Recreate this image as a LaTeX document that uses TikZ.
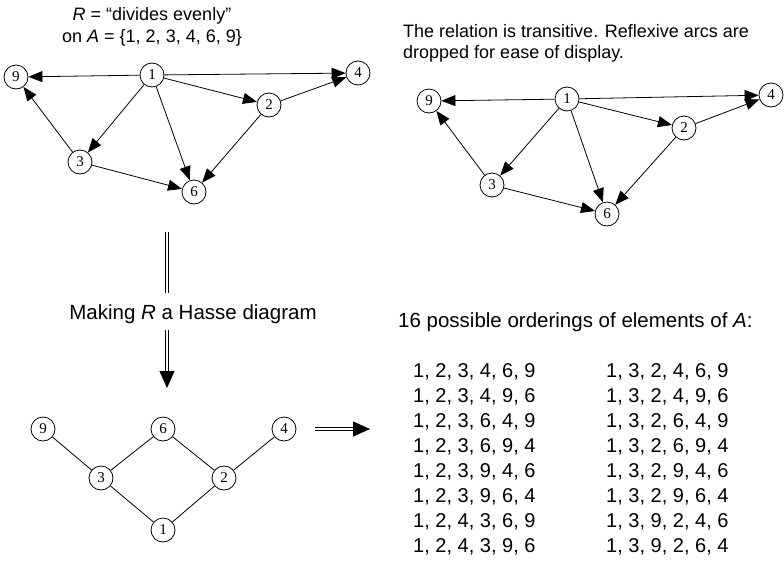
\documentclass[tikz,border=0pt]{standalone}
\usepackage{fontspec}
\setmainfont{Liberation Sans}
\newfontfamily\numfont{Liberation Serif}
\usetikzlibrary{arrows.meta}
\begin{document}
\begin{tikzpicture}[x=1pt,y=-1pt,
  vtx/.style={circle,draw,line width=0.8pt,minimum size=24pt,inner sep=0pt,font=\numfont\fontsize{15}{15}\selectfont},
  arc/.style={line width=0.8pt,-{Triangle[length=14pt,width=11pt]}},
  edge/.style={line width=0.8pt},
  dbl/.style={double,double distance=2.4pt,line width=0.8pt},
  bigtip/.style={line width=0.8pt,-{Triangle[length=17pt,width=15pt]}},
  lbl/.style={inner sep=0pt,font=\fontsize{18}{21.5}\selectfont},
  row/.style={inner sep=0pt,anchor=west,font=\fontsize{20}{20}\selectfont}]
\useasboundingbox (0,0) rectangle (784,563);

% relation R as a directed graph
\node[lbl,align=center] (title) at (152,27) {\textit{R} = ``divides evenly''\\on \textit{A} = \{1, 2, 3, 4, 6, 9\}};
\node[vtx] (a9) at (16,77) {9};
\node[vtx] (a1) at (152,75) {1};
\node[vtx] (a4) at (358,73) {4};
\node[vtx] (a2) at (269,105) {2};
\node[vtx] (a3) at (80,162) {3};
\node[vtx] (a6) at (194,192) {6};
\draw[arc] (a1) -- (a9);
\draw[arc] (a1) -- (a4);
\draw[arc] (a1) -- (a2);
\draw[arc] (a1) -- (a3);
\draw[arc] (a1) -- (a6);
\draw[arc] (a2) -- (a4);
\draw[arc] (a2) -- (a6);
\draw[arc] (a3) -- (a9);
\draw[arc] (a3) -- (a6);

% the same relation, transitive
\node[lbl,align=left,anchor=north west] (note) at (403,24) {The relation is transitive. Reflexive arcs are\\dropped for ease of display.};
\node[vtx] (b9) at (429,101) {9};
\node[vtx] (b1) at (567,99) {1};
\node[vtx] (b4) at (771,95) {4};
\node[vtx] (b2) at (684,128) {2};
\node[vtx] (b3) at (492,185) {3};
\node[vtx] (b6) at (607,214) {6};
\draw[arc] (b1) -- (b9);
\draw[arc] (b1) -- (b4);
\draw[arc] (b1) -- (b2);
\draw[arc] (b1) -- (b3);
\draw[arc] (b1) -- (b6);
\draw[arc] (b2) -- (b4);
\draw[arc] (b2) -- (b6);
\draw[arc] (b3) -- (b9);
\draw[arc] (b3) -- (b6);

% step down to the Hasse diagram
\node[inner sep=0pt,font=\fontsize{20.5}{20.5}\selectfont] (make) at (193,314) {Making \textit{R} a Hasse diagram};
\coordinate (d0) at (167,232);
\coordinate (d1) at (167,293);
\coordinate (d2) at (167,330);
\coordinate (d3) at (167,371);
\coordinate (d4) at (167,388);
\draw[dbl] (d0) -- (d1);
\draw[dbl] (d2) -- (d3);
\draw[bigtip] (d3) -- (d4);

% Hasse diagram
\node[vtx] (h9) at (43,429) {9};
\node[vtx] (h6) at (163,429) {6};
\node[vtx] (h4) at (284,429) {4};
\node[vtx] (h3) at (101,478) {3};
\node[vtx] (h2) at (224,478) {2};
\node[vtx] (h1) at (163,530) {1};
\draw[edge] (h9) -- (h3);
\draw[edge] (h3) -- (h6);
\draw[edge] (h6) -- (h2);
\draw[edge] (h2) -- (h4);
\draw[edge] (h3) -- (h1);
\draw[edge] (h1) -- (h2);

% arrow to the list of orderings
\coordinate (r0) at (315,429);
\coordinate (r1) at (353,429);
\coordinate (r2) at (370,429);
\draw[dbl] (r0) -- (r1);
\draw[bigtip] (r1) -- (r2);

% topological orderings
\node[inner sep=0pt,anchor=west,font=\fontsize{20.5}{20.5}\selectfont] (head) at (398,322) {16 possible orderings of elements of \textit{A}:};
\foreach \l [count=\i from 0] in {{1, 2, 3, 4, 6, 9},{1, 2, 3, 4, 9, 6},{1, 2, 3, 6, 4, 9},{1, 2, 3, 6, 9, 4},{1, 2, 3, 9, 4, 6},{1, 2, 3, 9, 6, 4},{1, 2, 4, 3, 6, 9},{1, 2, 4, 3, 9, 6}}
  \node[row] (l\i) at (413,372+24.9*\i) {\l};
\foreach \l [count=\i from 0] in {{1, 3, 2, 4, 6, 9},{1, 3, 2, 4, 9, 6},{1, 3, 2, 6, 4, 9},{1, 3, 2, 6, 9, 4},{1, 3, 2, 9, 4, 6},{1, 3, 2, 9, 6, 4},{1, 3, 9, 2, 4, 6},{1, 3, 9, 2, 6, 4}}
  \node[row] (r\i) at (606,372+24.9*\i) {\l};
\end{tikzpicture}
\end{document}
